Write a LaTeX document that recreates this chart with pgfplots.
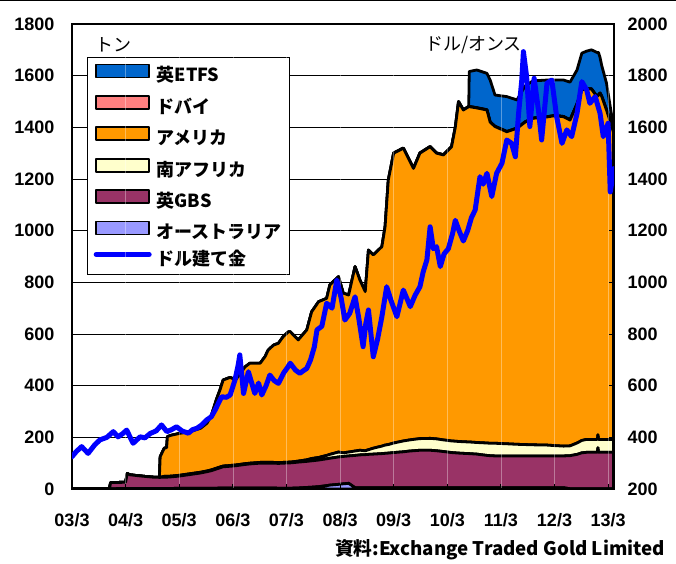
\documentclass[border=0pt]{standalone}
\usepackage{fontspec}
\setmainfont{Liberation Sans}
\newfontfamily\jp{Noto Sans CJK JP}
\usepackage{pgfplots}
\usepackage{pgfplotstable}
\pgfplotsset{compat=1.18}
\definecolor{cETFS}{HTML}{0066CC}
\definecolor{cDubai}{HTML}{FF8080}
\definecolor{cUS}{HTML}{FF9900}
\definecolor{cSA}{HTML}{FFFFCC}
\definecolor{cGBS}{HTML}{993366}
\definecolor{cAus}{HTML}{9999FF}
\definecolor{cGold}{HTML}{0000FF}
\pgfplotsset{
  myarea/.style={fill=#1, draw=black, line width=2.8pt, line join=round,
    legend image code/.code={\draw[fill=#1, draw=black, line width=1.8pt] (0pt,-0.5pt) rectangle (53pt,12.5pt);}},
  pricelegend/.style={legend image code/.code={\draw[cGold, line width=5pt, line cap=round] (0pt,6pt) -- (53pt,6pt);}},
}
\pgfplotstableread{
t A G S U D E
0.00 1 0 0 0 0 0
0.70 1 1 0 0 0 0
0.72 1 24 0 0 0 0
1.00 2 24 0 0 0 0
1.03 2 58 0 0 0 0
1.08 2 53 0 0 0 0
1.30 2 48 0 0 0 0
1.50 2 44 0 0 0 0
1.63 2 43 0 0 0 0
1.645 2 43 0 80 0 0
1.72 2 44 3 109 0 0
1.765 2 44 3 111 0 0
1.78 2 44 3 154 0 0
1.85 2 45 3 158 0 0
2.00 3 47 3 162 0 0
2.20 3 53 3 163 0 0
2.40 3 59 3 170 0 0
2.52 3 64 3 185 0 0
2.60 3 68 3 211 0 0
2.70 3 75 3 269 0 0
2.76 4 78 3 298 0 0
2.82 4 82 3 333 0 0
2.95 4 84 3 341 0 0
3.05 4 86 3 329 0 0
3.23 4 91 3 375 0 0
3.32 4 93 3 387 0 0
3.51 4 96 3 384 0 0
3.60 4 96 3 409 0 0
3.66 4 96 3 435 0 0
3.76 4 96 3 454 0 0
3.85 3 96 3 462 0 0
3.94 3 97 3 487 0 0
4.04 3 98 3 505 0 0
4.07 3 98 3 505 0 0
4.22 4 100 4 469 0 0
4.38 6 101 6 503 0 0
4.47 7 102 9 568 0 0
4.60 9 103 10 603 0 0
4.75 13 104 13 608 0 0
4.81 15 104 15 656 0 0
4.97 18 106 19 679 0 0
5.06 20 106 14 618 0 0
5.16 22 106 15 608 0 0
5.28 5 125 17 714 0 0
5.37 5 127 18 659 0 0
5.47 5 128 15 616 0 0
5.53 5 129 18 773 0 0
5.62 5 130 23 748 0 0
5.78 5 132 29 772 0 0
5.84 5 133 32 845 0 0
5.90 5 134 33 1024 0 0
6.00 5 136 37 1122 1 0
6.18 5 139 42 1133 1 0
6.30 5 142 43 1080 1 0
6.37 5 143 44 1049 1 0
6.49 5 145 45 1105 1 0
6.68 5 145 46 1129 1 0
6.80 5 143 46 1106 1 0
6.93 5 140 45 1103 1 0
7.08 5 136 45 1139 1 0
7.15 5 135 45 1215 1 0
7.21 5 134 45 1315 1 0
7.30 5 133 45 1284 1 0
7.40 5 132 45 1298 1 0
7.41 5 132 45 1298 1 135
7.55 5 130 45 1295 1 146
7.74 5 125 48 1289 1 141
7.80 5 124 48 1243 1 162
7.89 5 123 49 1226 1 121
8.11 5 123 47 1208 1 135
8.30 5 123 45 1223 1 109
8.45 5 123 44 1248 1 139
8.60 5 123 43 1264 1 144
8.86 5 123 42 1270 1 142
9.00 5 123 40 1277 1 137
9.17 5 123 38 1275 1 141
9.29 1 128 38 1261 1 146
9.42 1 133 44 1312 1 131
9.51 1 139 48 1357 1 141
9.60 1 141 50 1356 1 146
9.69 1 141 50 1356 1 151
9.79 1 141 50 1327 1 170
9.80 1 141 50 1330 1 167
9.81 1 159 50 1312 1 167
9.82 1 141 50 1333 1 164
9.85 1 141 50 1340 1 137
9.88 1 141 50 1328 1 119
9.97 1 141 50 1275 1 103
10.07 1 141 50 1211 1 37
10.10 1 141 50 1188 1 19
}\holdings
\pgfplotstableread{
t p
0.00 325
0.08 345
0.18 364
0.30 338
0.42 370
0.52 390
0.65 400
0.77 422
0.86 402
0.95 415
1.02 428
1.14 377
1.27 402
1.36 398
1.46 415
1.57 425
1.67 448
1.77 422
1.86 430
1.95 441
2.05 425
2.17 416
2.25 430
2.33 435
2.42 448
2.51 467
2.60 480
2.67 506
2.79 557
2.88 555
2.95 564
3.04 622
3.10 680
3.13 719
3.20 570
3.29 654
3.41 570
3.48 610
3.54 564
3.62 600
3.69 641
3.77 620
3.85 609
3.95 650
4.02 670
4.07 687
4.17 660
4.25 648
4.33 660
4.38 667
4.45 700
4.52 750
4.57 816
4.66 830
4.75 919
4.85 900
4.94 1009
5.02 940
5.09 854
5.18 880
5.28 944
5.35 860
5.43 751
5.48 840
5.53 893
5.62 712
5.70 780
5.78 867
5.87 983
5.95 930
6.06 867
6.18 970
6.31 906
6.40 950
6.49 983
6.55 1040
6.62 1087
6.68 1215
6.74 1130
6.80 1138
6.87 1061
6.94 1110
7.02 1130
7.10 1190
7.15 1240
7.22 1200
7.30 1160
7.38 1200
7.45 1250
7.52 1280
7.61 1409
7.67 1380
7.74 1422
7.83 1332
7.92 1422
8.02 1461
8.11 1551
8.20 1538
8.27 1486
8.33 1654
8.39 1783
8.42 1893
8.48 1796
8.54 1603
8.62 1790
8.70 1667
8.76 1551
8.86 1771
8.95 1783
9.04 1641
9.14 1538
9.23 1590
9.32 1564
9.42 1654
9.51 1777
9.60 1745
9.66 1693
9.76 1719
9.85 1654
9.91 1564
10.00 1616
10.04 1350
10.08 1400
10.10 1440
}\price
\begin{document}
\begin{tikzpicture}
\begin{axis}[
  at={(0,0)}, anchor=south west,
  scale only axis, width=542pt, height=465pt,
  xmin=0, xmax=10.11, ymin=0, ymax=1800,
  axis line style={draw=none},
  xtick=\empty,
  ytick={0,200,...,1800},
  ytick style={draw=none},
  /pgf/number format/assume math mode=true,
  /pgf/number format/1000 sep={},
  yticklabel style={font=\fontsize{18}{18}\selectfont\bfseries, xshift=-14pt},
  ymajorgrids, grid style={black, line width=0.8pt},
  stack plots=y,
  reverse legend,
  legend cell align=left,
  legend style={at={(0.028,0.929)}, anchor=north west, draw=black, line width=1pt,
    fill=white, font=\jp\bfseries\fontsize{18}{18}\selectfont,
    inner xsep=6pt, inner ysep=6pt, row sep=10pt,
    nodes={inner ysep=0pt, inner xsep=2pt, text height=13pt, text depth=3pt},
    /tikz/every odd column/.append style={column sep=3pt}},
]
\addlegendimage{pricelegend}
\addlegendentry{ドル建て金}
\addplot[myarea=cAus] table[x=t, y=A]{\holdings} \closedcycle;
\addlegendentry{オーストラリア}
\addplot[myarea=cGBS] table[x=t, y=G]{\holdings} \closedcycle;
\addlegendentry{英GBS}
\addplot[myarea=cSA] table[x=t, y=S]{\holdings} \closedcycle;
\addlegendentry{南アフリカ}
\addplot[myarea=cUS] table[x=t, y=U]{\holdings} \closedcycle;
\addlegendentry{アメリカ}
\addplot[myarea=cDubai] table[x=t, y=D]{\holdings} \closedcycle;
\addlegendentry{ドバイ}
\addplot[myarea=cETFS] table[x=t, y=E]{\holdings} \closedcycle;
\addlegendentry{英ETFS}
\end{axis}
\begin{axis}[
  at={(0,0)}, anchor=south west,
  scale only axis, width=542pt, height=465pt,
  xmin=0, xmax=10.11, ymin=200, ymax=2000,
  axis line style={line width=1.8pt},
  xtick={0,1,...,10},
  xticklabels={03/3,04/3,05/3,06/3,07/3,08/3,09/3,10/3,11/3,12/3,13/3},
  xtick pos=bottom,
  ytick={200,400,...,2000},
  yticklabel pos=right,
  ytick pos=both,
  tick style={black, line width=0.8pt},
  major tick length=5pt,
  /pgf/number format/assume math mode=true,
  /pgf/number format/1000 sep={},
  yticklabel style={font=\fontsize{18}{18}\selectfont\bfseries, xshift=10pt},
  xticklabel style={font=\fontsize{18}{18}\selectfont\bfseries, yshift=-21pt},
  xmajorgrids, grid style={white, opacity=0.35, line width=0.6pt},
]
\addplot[cGold, line width=5pt, line join=round, line cap=round] table[x=t, y=p]{\price};
\end{axis}
\node[anchor=west, inner sep=0pt, font=\jp\fontsize{18}{18}\selectfont] at (23pt,444pt) {トン};
\node[anchor=west, inner sep=0pt, font=\jp\fontsize{18}{18}\selectfont] at (353pt,444pt) {ドル/オンス};
\node[anchor=east, inner sep=0pt, font=\jp\bfseries\fontsize{18.7}{19}\selectfont] at (593pt,-61pt) {資料:Exchange Traded Gold Limited};
\draw[line width=1pt] (-72pt,488.5pt) -- (604pt,488.5pt);
\pgfresetboundingbox
\useasboundingbox (-72pt,-74pt) rectangle (604pt,489pt);
\end{tikzpicture}
\end{document}
